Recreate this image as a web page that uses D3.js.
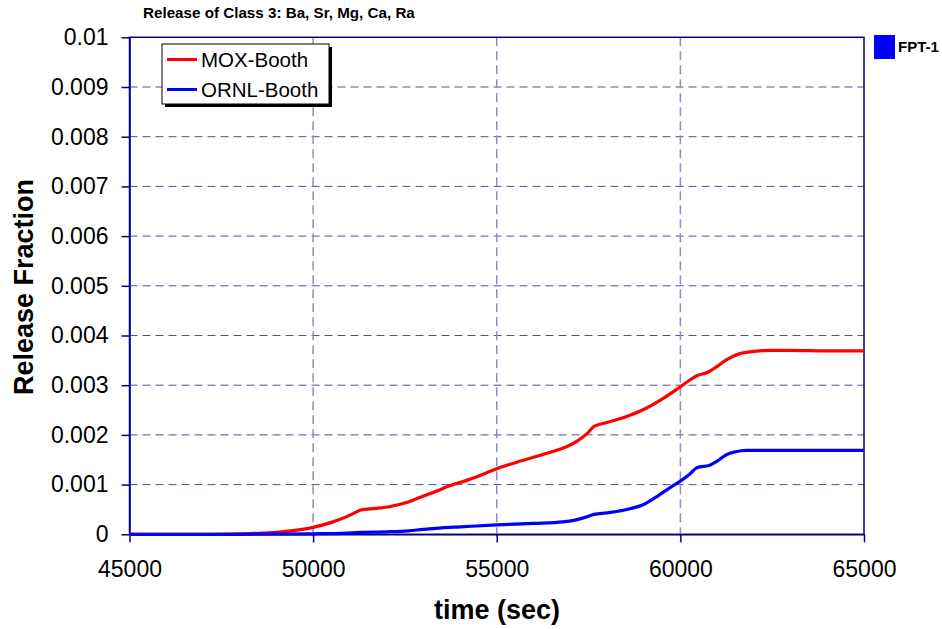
<!DOCTYPE html>
<html>
<head>
<meta charset="utf-8">
<script src="https://cdn.jsdelivr.net/npm/d3@7/dist/d3.min.js"></script>
<style>
  html, body { margin: 0; padding: 0; background: #fff; }
  svg { display: block; font-family: Arial, "Liberation Sans", sans-serif; }
</style>
</head>
<body>
<svg id="chart" width="942" height="629"></svg>
<script>
// Release of Class 3 elements versus time for two release models
const chartTitle = "Release of Class 3: Ba, Sr, Mg, Ca, Ra";
const xTicks = [45000, 50000, 55000, 60000, 65000];
const yTicks = [0, 0.001, 0.002, 0.003, 0.004, 0.005, 0.006, 0.007, 0.008, 0.009, 0.01];
const yTickLabels = ["0", "0.001", "0.002", "0.003", "0.004", "0.005", "0.006", "0.007", "0.008", "0.009", "0.01"];

const moxTime = [45000, 47000, 48000, 48500, 49000, 49500, 50000, 50500, 50900, 51100, 51300, 51700,
  52100, 52500, 52900, 53300, 53700, 54200, 54700, 55000, 55500, 56000, 56500, 56900, 57200, 57450,
  57650, 58000, 58500, 59000, 59500, 60000, 60250, 60450, 60750, 61000, 61300, 61600, 62000, 62500,
  63000, 64000, 65000];
const moxRelease = [0, 0, 0.00001, 0.00002, 0.00004, 0.00008, 0.00014, 0.00024, 0.00035, 0.00042, 0.00049, 0.00052,
  0.00056, 0.00063, 0.00074, 0.00085, 0.00097, 0.00109, 0.00123, 0.00132, 0.00144, 0.00155, 0.00166, 0.00176, 0.00188, 0.00202,
  0.00217, 0.00225, 0.00236, 0.00251, 0.00272, 0.00297, 0.00310, 0.00319, 0.00326, 0.00338, 0.00353, 0.00363, 0.00368, 0.00370,
  0.00370, 0.00369, 0.00369];

const ornlTime = [45000, 48000, 50000, 50800, 51300, 52000, 52600, 53000, 53500, 54000, 55000, 56000,
  56800, 57100, 57400, 57650, 58000, 58600, 59000, 59400, 59700, 60000, 60250, 60450, 60800, 61000,
  61250, 61500, 61800, 62500, 65000];
const ornlRelease = [0, 0, 0.00001, 0.00002, 0.00004, 0.00005, 0.00007, 0.00010, 0.00013, 0.00015, 0.00019, 0.00022,
  0.00025, 0.00028, 0.00034, 0.00040, 0.00043, 0.00051, 0.00060, 0.00078, 0.00093, 0.00107, 0.00121, 0.00134, 0.00139, 0.00147,
  0.00160, 0.00166, 0.00169, 0.00169, 0.00169];

const seriesNames = ["MOX-Booth", "ORNL-Booth"];
const seriesColors = ["#ff0000", "#0000ff"];
const markerName = "FPT-1";

const svg = d3.select("#chart");
const plot = { left: 129.5, right: 864, top: 37.3, bottom: 534.3 };

const x = d3.scaleLinear().domain([45000, 65000]).range([plot.left, plot.right]);
const y = d3.scaleLinear().domain([0, 0.01]).range([plot.bottom, plot.top]);

// gridlines
svg.append("g").selectAll("line")
  .data(yTicks.filter(v => v > 0 && v < 0.01))
  .join("line")
  .attr("x1", plot.left).attr("x2", plot.right)
  .attr("y1", d => y(d)).attr("y2", d => y(d))
  .attr("stroke", "#4f4f9f").attr("stroke-width", 1)
  .attr("stroke-dasharray", "8,5");

svg.append("g").selectAll("line")
  .data(xTicks.filter(v => v > 45000 && v < 65000))
  .join("line")
  .attr("x1", d => x(d)).attr("x2", d => x(d))
  .attr("y1", plot.top).attr("y2", plot.bottom + 8)
  .attr("stroke", "#8c8cce").attr("stroke-width", 1.5)
  .attr("stroke-dasharray", "9,5");

// plot frame
svg.append("rect")
  .attr("x", plot.left).attr("y", plot.top)
  .attr("width", plot.right - plot.left).attr("height", plot.bottom - plot.top)
  .attr("fill", "none").attr("stroke", "#000080").attr("stroke-width", 1.5);

// y axis
const yAxis = d3.axisLeft(y).tickValues(yTicks)
  .tickFormat((d, i) => yTickLabels[i]).tickSize(8).tickSizeOuter(0).tickPadding(13);
const gy = svg.append("g").attr("transform", `translate(${plot.left},0)`).call(yAxis);
gy.select(".domain").attr("stroke", "#000080").attr("stroke-width", 1.5);
gy.selectAll(".tick line").attr("stroke", "#000080").attr("stroke-width", 1.5);
gy.selectAll(".tick text").attr("fill", "#000").style("font-size", "23px")
  .style("font-family", "Arial, 'Liberation Sans', sans-serif");

// x axis
const xAxis = d3.axisBottom(x).tickValues(xTicks).tickFormat(d3.format("d"))
  .tickSize(8).tickSizeOuter(0).tickPadding(18);
const gx = svg.append("g").attr("transform", `translate(0,${plot.bottom})`).call(xAxis);
gx.select(".domain").attr("stroke", "#000080").attr("stroke-width", 1.5);
gx.selectAll(".tick line").attr("stroke", "#000080").attr("stroke-width", 1.5);
gx.selectAll(".tick text").attr("fill", "#000").style("font-size", "23px")
  .style("font-family", "Arial, 'Liberation Sans', sans-serif");

// series lines
const line = d3.line().x(d => x(d[0])).y(d => y(d[1])).curve(d3.curveMonotoneX);
const series = [
  d3.zip(moxTime, moxRelease),
  d3.zip(ornlTime, ornlRelease)
];
series.forEach((pts, i) => {
  svg.append("path").datum(pts)
    .attr("d", line)
    .attr("fill", "none")
    .attr("stroke", seriesColors[i])
    .attr("stroke-width", 3.2)
    .attr("stroke-linejoin", "round");
});

// title
svg.append("text").attr("x", 143).attr("y", 18)
  .attr("font-size", 15.2).attr("font-weight", "bold").attr("fill", "#000")
  .text(chartTitle);

// axis titles
svg.append("text").attr("x", 497).attr("y", 619)
  .attr("text-anchor", "middle").attr("font-size", 27).attr("font-weight", "bold")
  .text("time (sec)");
svg.append("text").attr("transform", "translate(33,287) rotate(-90)")
  .attr("text-anchor", "middle").attr("font-size", 27).attr("font-weight", "bold")
  .text("Release Fraction");

// legend box with shadow
const lg = svg.append("g").attr("transform", "translate(162,44)");
lg.append("rect").attr("x", 3).attr("y", 3).attr("width", 167).attr("height", 60).attr("fill", "#000");
lg.append("rect").attr("x", 0).attr("y", 0).attr("width", 167).attr("height", 60)
  .attr("fill", "#fff").attr("stroke", "#000").attr("stroke-width", 1);
seriesNames.forEach((name, i) => {
  const cy = 15.5 + i * 30;
  lg.append("line").attr("x1", 5).attr("x2", 35).attr("y1", cy).attr("y2", cy)
    .attr("stroke", seriesColors[i]).attr("stroke-width", 3);
  lg.append("text").attr("x", 39).attr("y", cy + 7.5)
    .attr("font-size", 20.5).attr("fill", "#000").text(name);
});

// side marker legend
svg.append("rect").attr("x", 874).attr("y", 35).attr("width", 21).attr("height", 24).attr("fill", "#0000ff");
svg.append("text").attr("x", 898).attr("y", 52)
  .attr("font-size", 15).attr("font-weight", "bold").attr("fill", "#000").text(markerName);
</script>
</body>
</html>
